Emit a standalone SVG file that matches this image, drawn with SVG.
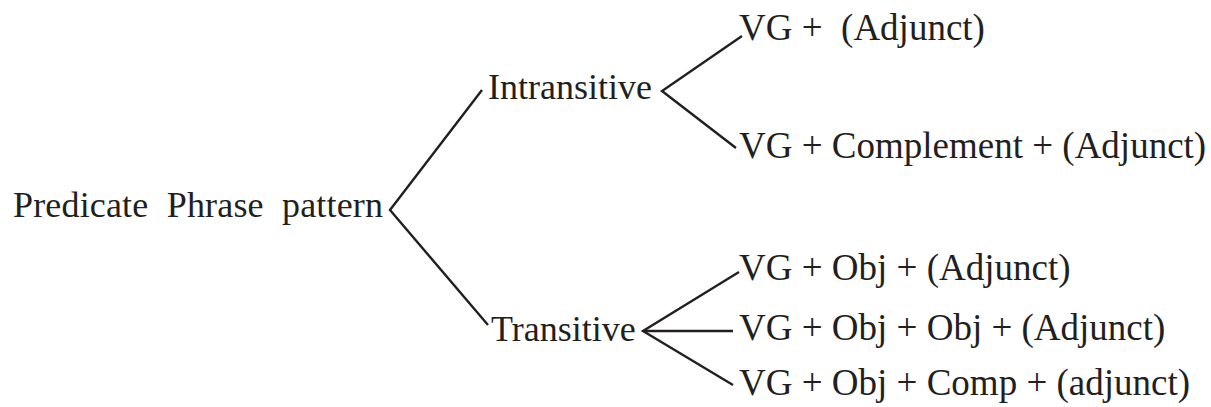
<svg xmlns="http://www.w3.org/2000/svg" width="1211" height="407" viewBox="0 0 1211 407">
<style>
text{font-family:"Liberation Serif","Times New Roman",serif;fill:#231f20;white-space:pre}
.l{font-size:36px}
.r{font-size:37px}
.c{fill:none;stroke:#231f20;stroke-width:2.4;stroke-linejoin:miter}
</style>
<rect width="1211" height="407" fill="#fff"/>
<g id="connectors">
<polyline class="c" points="482,90 390,210 488,325"/>
<polyline class="c" points="742,36 662,91 736,148"/>
<polyline class="c" points="739,272 643,331 733,385"/>
<line class="c" x1="643" y1="331" x2="733" y2="331"/>
</g>
<g id="root"><text class="l" x="13" y="217" textLength="370">Predicate  Phrase  pattern</text></g>
<g id="intransitive"><text class="l" x="488" y="99">Intransitive</text></g>
<g id="transitive"><text class="l" x="491" y="341">Transitive</text></g>
<g id="i1"><text class="r" x="739" y="40">VG +  (Adjunct)</text></g>
<g id="i2"><text class="r" x="739" y="158">VG + Complement + (Adjunct)</text></g>
<g id="t1"><text class="r" x="739" y="280">VG + Obj + (Adjunct)</text></g>
<g id="t2"><text class="r" x="739" y="340">VG + Obj + Obj + (Adjunct)</text></g>
<g id="t3"><text class="r" x="739" y="395">VG + Obj + Comp + (adjunct)</text></g>
</svg>
